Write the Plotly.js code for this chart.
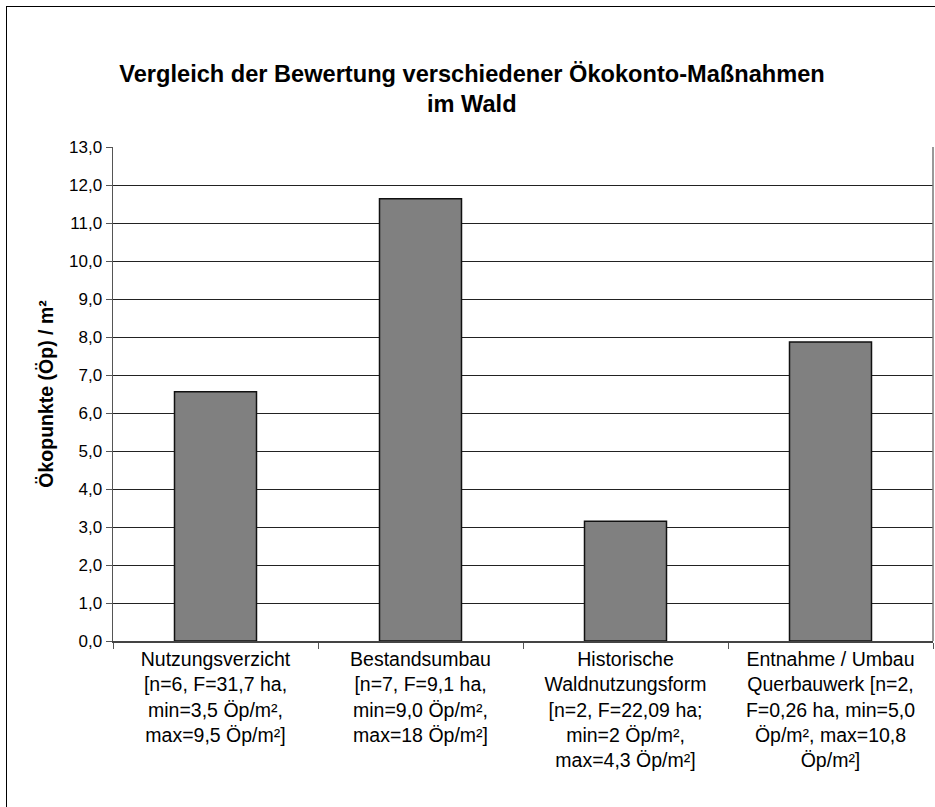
<!DOCTYPE html>
<html>
<head>
<meta charset="utf-8">
<script src="https://cdn.plot.ly/plotly-3.0.1.min.js"></script>
<style>
  html, body { margin: 0; padding: 0; background: #fff; overflow: hidden; }
  #frame { position: absolute; left: 6px; top: 6px; width: 1200px; height: 1200px; border: 1.5px solid #000; box-sizing: border-box; pointer-events: none; z-index: 5; }
  #chart { position: absolute; left: 0; top: 0; width: 935px; height: 807px; }
</style>
</head>
<body>
<div id="chart"></div>
<div id="frame"></div>
<script>
const categories = [
  "Nutzungsverzicht<br>[n=6, F=31,7 ha,<br>min=3,5 Öp/m²,<br>max=9,5 Öp/m²]",
  "Bestandsumbau<br>[n=7, F=9,1 ha,<br>min=9,0 Öp/m²,<br>max=18 Öp/m²]",
  "Historische<br>Waldnutzungsform<br>[n=2, F=22,09 ha;<br>min=2 Öp/m²,<br>max=4,3 Öp/m²]",
  "Entnahme / Umbau<br>Querbauwerk [n=2,<br>F=0,26 ha, min=5,0<br>Öp/m², max=10,8<br>Öp/m²]"
];
const values = [6.56, 11.64, 3.15, 7.87];
const titleLine1 = "Vergleich der Bewertung verschiedener Ökokonto-Maßnahmen";
const titleLine2 = "im Wald";
const yTitle = "Ökopunkte (Öp) / m²";

const font = "Liberation Sans, Arial, sans-serif";

const trace = {
  type: "bar",
  x: categories,
  y: values,
  marker: { color: "#808080", line: { color: "#111", width: 1.5 } },
  hoverinfo: "skip"
};

const layout = {
  width: 935, height: 807,
  margin: { l: 113, r: 2, t: 147, b: 166, pad: 0 },
  paper_bgcolor: "#fff", plot_bgcolor: "#fff",
  separators: ",.",
  bargap: 0.6,
  showlegend: false,
  font: { family: font, color: "#000" },
  title: {
    text: "<b>" + titleLine1 + "</b>",
    font: { family: font, size: 23.6, color: "#000" },
    x: 472 / 935, xanchor: "center", xref: "container",
    y: 1 - 74 / 807, yanchor: "middle", yref: "container"
  },
  annotations: [{
    text: "<b>" + titleLine2 + "</b>",
    xref: "paper", yref: "paper",
    x: (472 - 113) / 820, y: 1 + (147 - 104) / 494,
    xanchor: "center", yanchor: "middle",
    showarrow: false,
    font: { family: font, size: 23.6, color: "#000" }
  }],
  xaxis: {
    type: "category",
    tickson: "boundaries",
    ticks: "outside", ticklen: 6, tickcolor: "#555", tickwidth: 1,
    showline: true, linecolor: "#444", linewidth: 1.5,
    showgrid: false,
    tickfont: { family: font, size: 19.5, color: "#000" },
    tickangle: 0,
    automargin: false
  },
  yaxis: {
    range: [0, 13],
    dtick: 1, tick0: 0,
    tickformat: ".1f",
    ticks: "outside", ticklen: 6, tickcolor: "#555", tickwidth: 1,
    showline: true, linecolor: "#555", linewidth: 1.5,
    showgrid: true, gridcolor: "#222", gridwidth: 1,
    zeroline: false,
    tickfont: { family: font, size: 17, color: "#000" },
    title: { text: "<b>" + yTitle + "</b>", font: { family: font, size: 19.5, color: "#000" }, standoff: 10 },
    automargin: false
  },
  shapes: [{
    type: "line", xref: "paper", yref: "paper",
    x0: 1, x1: 1, y0: 0, y1: 1,
    line: { color: "#777", width: 1.5 }
  }]
};

Plotly.newPlot("chart", [trace], layout, { displayModeBar: false, staticPlot: true });
</script>
</body>
</html>
